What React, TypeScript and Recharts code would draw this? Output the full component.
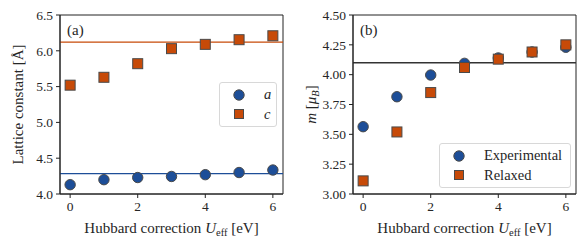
import React from 'react';
import { ScatterChart, Scatter, XAxis, YAxis, ReferenceLine, ReferenceArea } from 'recharts';

const uValues = [0, 1, 2, 3, 4, 5, 6];
const latticeA = [4.13, 4.2, 4.23, 4.245, 4.27, 4.3, 4.335];
const latticeC = [5.52, 5.63, 5.82, 6.03, 6.09, 6.155, 6.21];
const expLatticeA = 4.285;
const expLatticeC = 6.12;
const momentExperimental = [3.564, 3.815, 3.997, 4.095, 4.14, 4.19, 4.23];
const momentRelaxed = [3.11, 3.52, 3.85, 4.06, 4.13, 4.19, 4.25];
const momentReference = 4.1;
const xTicks = [0, 2, 4, 6];
const yTicksA = [4.0, 4.5, 5.0, 5.5, 6.0, 6.5];
const yTicksB = [3.0, 3.25, 3.5, 3.75, 4.0, 4.25, 4.5];

const BLUE = '#1d4e98';
const ORANGE = '#c74a08';
const EDGE = '#4a4a4a';
const AXIS = '#222';
const TEXT = '#262626';
const FONT = '"Liberation Serif", "DejaVu Serif", serif';

const toPts = (ys: number[]) => uValues.map((u, i) => ({ u, v: ys[i] }));

const CircleShape = (p: any) => (
  <circle cx={p.cx} cy={p.cy} r={5.2} fill={BLUE} stroke={EDGE} strokeWidth={1} />
);
const SquareShape = (p: any) => (
  <rect x={p.cx - 5} y={p.cy - 5} width={10} height={10} fill={ORANGE} stroke={EDGE} strokeWidth={1} />
);

const XLabel = (props: any) => {
  const vb = props.viewBox || {};
  const cx = vb.x + vb.width / 2;
  const y = vb.y + 39;
  return (
    <text x={cx} y={y} textAnchor="middle" fill={TEXT} fontFamily={FONT} fontSize={15}>
      Hubbard correction <tspan fontStyle="italic">U</tspan>
      <tspan fontSize={10.5} dy={3}>eff</tspan>
      <tspan dy={-3}> [eV]</tspan>
    </text>
  );
};

const YLabelA = (props: any) => {
  const vb = props.viewBox || {};
  const x = vb.x + 23;
  const y = vb.y + vb.height / 2;
  return (
    <text x={x} y={y} transform={`rotate(-90 ${x} ${y})`} textAnchor="middle" fill={TEXT} fontFamily={FONT} fontSize={15}>
      Lattice constant [Å]
    </text>
  );
};

const YLabelB = (props: any) => {
  const vb = props.viewBox || {};
  const x = vb.x + 23;
  const y = vb.y + vb.height / 2;
  return (
    <text x={x} y={y} transform={`rotate(-90 ${x} ${y})`} textAnchor="middle" fill={TEXT} fontFamily={FONT} fontSize={15}>
      <tspan fontStyle="italic">m</tspan> [<tspan fontStyle="italic">μ</tspan>
      <tspan fontStyle="italic" fontSize={10.5} dy={3}>B</tspan>
      <tspan dy={-3}>]</tspan>
    </text>
  );
};

const LegendBox = ({ items, left, top, width }: any) => (
  <div
    style={{
      position: 'absolute',
      left,
      top,
      width,
      border: '1px solid #d8d8d8',
      borderRadius: 3,
      background: 'rgba(255,255,255,0.85)',
      padding: '2px 0 2px 0',
      fontFamily: FONT,
      fontSize: 14.5,
      color: TEXT,
      boxSizing: 'border-box',
    }}
  >
    {items.map((it: any, i: number) => (
      <div key={i} style={{ display: 'flex', alignItems: 'center', height: 19.5 }}>
        <svg width={44} height={14} style={{ flex: 'none' }}>
          {it.shape === 'c' ? (
            <circle cx={19} cy={7} r={5.2} fill={BLUE} stroke={EDGE} strokeWidth={1} />
          ) : (
            <rect x={14.5} y={2.5} width={9} height={9} fill={ORANGE} stroke={EDGE} strokeWidth={1} />
          )}
        </svg>
        <span style={{ fontFamily: FONT }}>{it.label}</span>
      </div>
    ))}
  </div>
);

const tickStyle = { fill: TEXT, fontFamily: FONT, fontSize: 13.5 };

const Panel = ({ left, yDomain, yTicks, digits, seriesA, seriesB, refs, yLabel, legend, tag }: any) => (
  <div style={{ position: 'absolute', left, top: 0, width: 293, height: 247 }}>
    <ScatterChart width={293} height={247} margin={{ top: 15, right: 10, bottom: 23, left: 0 }}>
      <XAxis
        type="number"
        dataKey="u"
        domain={[-0.3, 6.3]}
        ticks={xTicks}
        allowDataOverflow
        stroke={AXIS}
        tickSize={4}
        tickMargin={3}
        tick={tickStyle}
        height={30}
        label={<XLabel />}
      />
      <YAxis
        type="number"
        dataKey="v"
        domain={yDomain}
        ticks={yTicks}
        allowDataOverflow
        stroke={AXIS}
        tickSize={4}
        tickMargin={3}
        tick={tickStyle}
        width={60}
        tickFormatter={(v: number) => v.toFixed(digits)}
        label={yLabel}
      />
      <ReferenceArea x1={-0.3} x2={6.3} y1={yDomain[0]} y2={yDomain[1]} fill="none" stroke={AXIS} strokeWidth={1} ifOverflow="visible" />
      {refs.map((r: any, i: number) => (
        <ReferenceLine key={i} y={r.y} stroke={r.color} strokeWidth={1.3} />
      ))}
      <Scatter data={seriesA} shape={CircleShape} isAnimationActive={false} />
      <Scatter data={seriesB} shape={SquareShape} isAnimationActive={false} />
    </ScatterChart>
    <LegendBox {...legend} />
    <div style={{ position: 'absolute', left: tag.x, top: tag.y, fontFamily: FONT, fontSize: 15, color: TEXT, lineHeight: '16px' }}>{tag.text}</div>
  </div>
);

export default function App() {
  return (
    <div style={{ position: 'absolute', left: 0, top: 0, width: 587, height: 247, background: '#fff' }}>
      <Panel
        left={0}
        yDomain={[4.0, 6.5]}
        yTicks={yTicksA}
        digits={1}
        seriesA={toPts(latticeA)}
        seriesB={toPts(latticeC)}
        refs={[
          { y: expLatticeA, color: BLUE },
          { y: expLatticeC, color: ORANGE },
        ]}
        yLabel={<YLabelA />}
        legend={{
          items: [
            { label: <i>a</i>, shape: 'c' },
            { label: <i>c</i>, shape: 's' },
          ],
          left: 219,
          top: 82,
          width: 58,
        }}
        tag={{ text: '(a)', x: 67, y: 22 }}
      />
      <Panel
        left={293}
        yDomain={[3.0, 4.5]}
        yTicks={yTicksB}
        digits={2}
        seriesA={toPts(momentExperimental)}
        seriesB={toPts(momentRelaxed)}
        refs={[{ y: momentReference, color: '#333' }]}
        yLabel={<YLabelB />}
        legend={{
          items: [
            { label: 'Experimental', shape: 'c' },
            { label: 'Relaxed', shape: 's' },
          ],
          left: 146,
          top: 143,
          width: 132,
        }}
        tag={{ text: '(b)', x: 67, y: 22 }}
      />
    </div>
  );
}
